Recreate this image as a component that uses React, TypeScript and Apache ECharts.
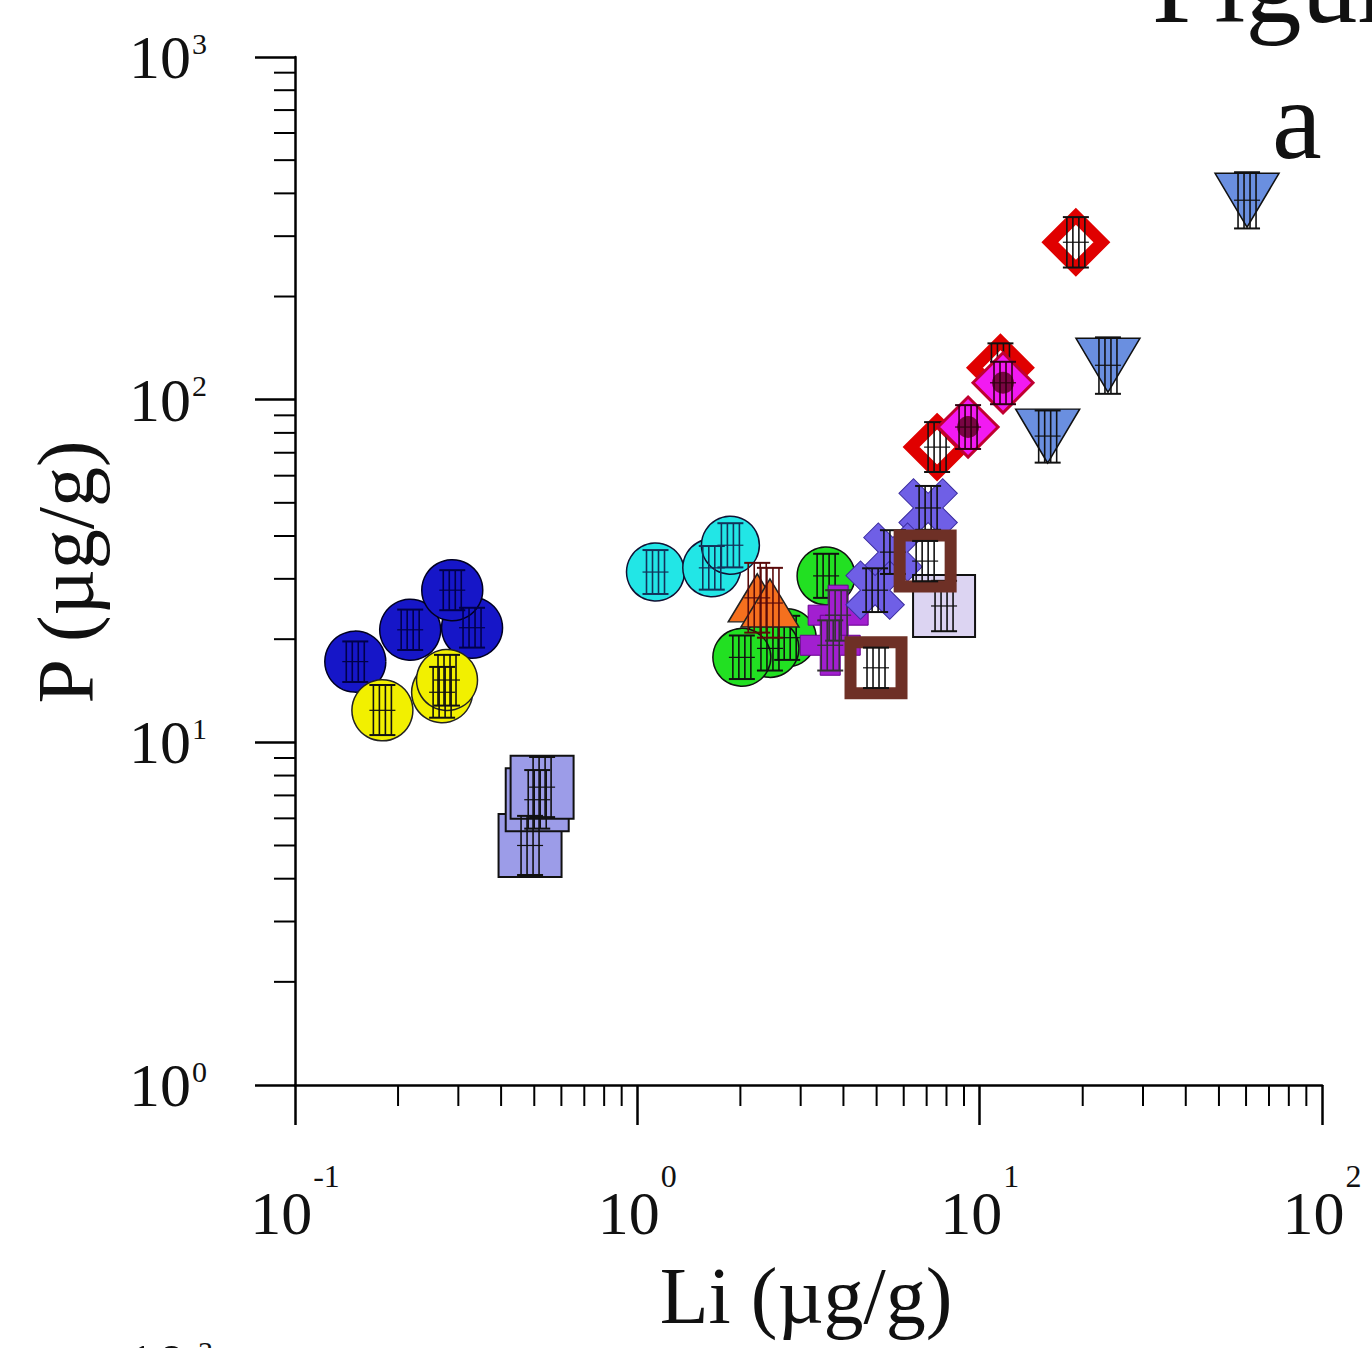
import React, { useEffect, useRef } from "react";
import * as echarts from "echarts";

// ---- axis limits & ticks ----
const X_MIN = 0.1;
const X_MAX = 100;
const Y_MIN = 1;
const Y_MAX = 1000;
const xMinorTicks = [0.2, 0.3, 0.4, 0.5, 0.6, 0.7, 0.8, 0.9, 2, 3, 4, 5, 6, 7, 8, 9, 20, 30, 40, 50, 60, 70, 80, 90];
const yMinorTicks = [2, 3, 4, 5, 6, 7, 8, 9, 20, 30, 40, 50, 60, 70, 80, 90, 200, 300, 400, 500, 600, 700, 800, 900];

// ---- data: [Li, P, P low, P high] ----
const darkBlueCircles = [
  [0.15, 17.2, 15.0, 19.7],
  [0.217, 21.3, 18.6, 24.4],
  [0.329, 21.6, 18.9, 24.7],
  [0.288, 27.8, 24.3, 31.8],
];
const yellowCircles = [
  [0.18, 12.4, 10.5, 14.7],
  [0.269, 14.0, 11.8, 16.6],
  [0.278, 15.2, 12.8, 18.0],
];
const periwinkleSquares = [
  [0.486, 5.0, 4.1, 6.1],
  [0.51, 6.8, 5.6, 8.3],
  [0.527, 7.4, 6.05, 9.06],
];
const cyanCircles = [
  [1.13, 31.4, 27.1, 36.4],
  [1.65, 32.3, 27.9, 37.4],
  [1.87, 37.6, 32.4, 43.6],
];
const orangeTriangles = [
  [2.24, 26.4, 20.9, 33.4],
  [2.44, 25.5, 20.2, 32.3],
];
const greenCircles = [
  [3.56, 30.6, 26.4, 35.5],
  [2.74, 20.2, 17.4, 23.4],
  [2.44, 18.8, 16.2, 21.8],
  [2.02, 17.7, 15.3, 20.5],
];
const purplePlus = [
  [3.86, 23.5, 19.8, 27.8],
  [3.66, 19.2, 16.2, 22.7],
];
const slateCrosses = [
  [7.07, 48.3, 41.7, 56.0],
  [5.58, 35.9, 31.0, 41.6],
  [4.95, 27.8, 24.0, 32.2],
];
const lavenderSquares = [[7.87, 25.0, 21.1, 29.6]];
const brownSquares = [
  [6.93, 33.8, 29.5, 38.7],
  [4.98, 16.5, 14.4, 18.9],
];
const redDiamonds = [
  [19.1, 288, 243, 341],
  [11.5, 124, 105, 146],
  [7.51, 72.7, 61.5, 86],
];
const magentaDiamonds = [
  [11.7, 112, 97, 129],
  [9.25, 83.2, 71.8, 96.4],
];
const blueInvTriangles = [
  [60.4, 382, 316, 461],
  [23.7, 126, 104, 152],
  [15.8, 78.3, 65.5, 93],
];

const SERIF = "Liberation Serif";
const PLUS_PATH = "path://M-1,-3H1V-1H3V1H1V3H-1V1H-3V-1H-1Z";

const groups = [
  { name: "darkBlue", data: darkBlueCircles, symbol: "circle", size: 61, color: "#1616c8", border: "#000020", bw: 1.5, bar: "#00004a" },
  { name: "yellow", data: yellowCircles, symbol: "circle", size: 61, color: "#f2f000", border: "#222", bw: 1.5, bar: "#111" },
  { name: "periwinkle", data: periwinkleSquares, symbol: "rect", size: 63, color: "#9c9ce8", border: "#111", bw: 2, bar: "#111" },
  { name: "cyan", data: cyanCircles, symbol: "circle", size: 58, color: "#22e6e6", border: "#113", bw: 1.5, bar: "#12335a" },
  { name: "green", data: greenCircles, symbol: "circle", size: 58, color: "#22e022", border: "#111", bw: 1.5, bar: "#111" },
  { name: "orange", data: orangeTriangles, symbol: "triangle", size: [58, 48], color: "#f5701e", border: "#222", bw: 1.5, bar: "#5a0a0a" },
  { name: "purple", data: purplePlus, symbol: PLUS_PATH, size: 60, color: "#a21fd0", border: "#6a0090", bw: 1, bar: "#333" },
  { name: "slate", data: slateCrosses, symbol: PLUS_PATH, size: 62, rotate: 45, color: "#6f5fe6", border: "#3a2ca0", bw: 1, bar: "#111" },
  { name: "lavender", data: lavenderSquares, symbol: "rect", size: 62, color: "#dcd4f2", border: "#111", bw: 2, bar: "#111" },
  { name: "brown", data: brownSquares, symbol: "rect", size: 51, color: "rgba(0,0,0,0)", border: "#6e3026", bw: 12, bar: "#111" },
  { name: "red", data: redDiamonds, symbol: "diamond", size: 52, color: "#ffffff", border: "#e00000", bw: 12, bar: "#111" },
  { name: "magenta", data: magentaDiamonds, symbol: "diamond", size: 60, color: "#f21af2", border: "#c00030", bw: 3, bar: "#300010", core: "#5a0018" },
  { name: "blueInv", data: blueInvTriangles, symbol: "triangle", rotate: 180, size: [64, 54], color: "#6a8fe0", border: "#111", bw: 1.5, bar: "#111" },
];

function errorBarRenderer(color: string) {
  return (params: any, api: any) => {
    const x = api.value(0);
    const y = api.value(1);
    const lo = api.value(2);
    const hi = api.value(3);
    const c = api.coord([x, y]);
    const pl = api.coord([x, lo]);
    const ph = api.coord([x, hi]);
    const cap = 13;
    const children: any[] = [];
    [-9, -3, 3, 9].forEach((dx) => {
      children.push({
        type: "line",
        shape: { x1: c[0] + dx, y1: ph[1], x2: c[0] + dx, y2: pl[1] },
        style: { stroke: color, lineWidth: 1.6 },
      });
    });
    [ph[1], pl[1], c[1]].forEach((yy, i) => {
      children.push({
        type: "line",
        shape: { x1: c[0] - cap, y1: yy, x2: c[0] + cap, y2: yy },
        style: { stroke: color, lineWidth: i === 2 ? 1.2 : 2 },
      });
    });
    return { type: "group", children };
  };
}

function supLabel(v: number) {
  const e = Math.round(Math.log10(v));
  return `{b|10}{s|${e}}`;
}

export default function App() {
  const ref = useRef<HTMLDivElement>(null);
  useEffect(() => {
    if (!ref.current) return;
    const chart = echarts.init(ref.current, undefined, { renderer: "svg" });

    const series: any[] = [];
    // minor ticks (drawn through the axes' scales)
    series.push({
      type: "custom",
      silent: true,
      clip: false,
      z: 2,
      data: xMinorTicks.map((v) => [v, Y_MIN]),
      encode: { x: 0, y: 1 },
      renderItem: (params: any, api: any) => {
        const p = api.coord([api.value(0), api.value(1)]);
        return {
          type: "line",
          shape: { x1: p[0], y1: p[1], x2: p[0], y2: p[1] + 21 },
          style: { stroke: "#000", lineWidth: 2 },
        };
      },
    });
    series.push({
      type: "custom",
      silent: true,
      clip: false,
      z: 2,
      data: yMinorTicks.map((v) => [X_MIN, v]),
      encode: { x: 0, y: 1 },
      renderItem: (params: any, api: any) => {
        const p = api.coord([api.value(0), api.value(1)]);
        return {
          type: "line",
          shape: { x1: p[0] - 21, y1: p[1], x2: p[0], y2: p[1] },
          style: { stroke: "#000", lineWidth: 2 },
        };
      },
    });

    groups.forEach((g: any, i: number) => {
      const zBase = 10 + i * 3;
      series.push({
        type: "scatter",
        name: g.name,
        z: zBase,
        data: g.data.map((d: number[]) => [d[0], d[1]]),
        symbol: g.symbol,
        symbolSize: g.size,
        symbolRotate: g.rotate || 0,
        itemStyle: { color: g.color, borderColor: g.border, borderWidth: g.bw, opacity: 1 },
        emphasis: { disabled: true },
      });
      if (g.core) {
        series.push({
          type: "scatter",
          name: g.name + "-core",
          z: zBase + 1,
          data: g.data.map((d: number[]) => [d[0], d[1]]),
          symbol: "circle",
          symbolSize: 22,
          itemStyle: { color: g.core, borderWidth: 0 },
          emphasis: { disabled: true },
        });
      }
      series.push({
        type: "custom",
        name: g.name + "-err",
        z: zBase + 2,
        silent: true,
        clip: false,
        data: g.data,
        encode: { x: 0, y: 1 },
        renderItem: errorBarRenderer(g.bar),
      });
    });

    const xRich = {
      b: { fontSize: 62, fontFamily: SERIF, color: "#111", lineHeight: 62, verticalAlign: "bottom" },
      s: { fontSize: 32, fontFamily: SERIF, color: "#111", lineHeight: 30, verticalAlign: "bottom", padding: [0, 0, 52, 1] },
    };
    const yRich = {
      b: { fontSize: 62, fontFamily: SERIF, color: "#111", lineHeight: 62 },
      s: { fontSize: 30, fontFamily: SERIF, color: "#111", lineHeight: 30, verticalAlign: "bottom", padding: [0, 0, 30, 1] },
    };

    chart.setOption({
      animation: false,
      backgroundColor: "#ffffff",
      grid: { left: 295, top: 57, width: 1027, height: 1028, containLabel: false },
      xAxis: {
        type: "log",
        logBase: 10,
        min: X_MIN,
        max: X_MAX,
        axisLine: { show: true, lineStyle: { color: "#000", width: 2.5 } },
        axisTick: { show: true, inside: false, length: 40, lineStyle: { color: "#000", width: 2.5 } },
        minorTick: { show: false },
        splitLine: { show: false },
        axisLabel: {
          margin: 97,
          formatter: supLabel,
          rich: xRich,
        },
      },
      yAxis: {
        type: "log",
        logBase: 10,
        min: Y_MIN,
        max: Y_MAX,
        axisLine: { show: true, lineStyle: { color: "#000", width: 2.5 } },
        axisTick: { show: true, inside: false, length: 40, lineStyle: { color: "#000", width: 2.5 } },
        minorTick: { show: false },
        splitLine: { show: false },
        axisLabel: {
          margin: 88,
          formatter: supLabel,
          rich: yRich,
        },
      },
      graphic: [
        {
          type: "text",
          x: 806,
          y: 1296,
          style: { text: "Li (µg/g)", fontSize: 80, fontFamily: SERIF, fill: "#111", align: "center", verticalAlign: "middle" },
        },
        {
          type: "text",
          x: 66,
          y: 572,
          rotation: Math.PI / 2,
          style: { text: "P (µg/g)", fontSize: 80, fontFamily: SERIF, fill: "#111", align: "center", verticalAlign: "middle" },
        },
        {
          type: "text",
          x: 1152,
          y: -16,
          style: { text: "Figure 3", fontSize: 112, fontFamily: SERIF, fill: "#111", align: "left", verticalAlign: "middle" },
        },
        {
          type: "text",
          x: 1272,
          y: 120,
          style: { text: "a", fontSize: 112, fontFamily: SERIF, fill: "#111", align: "left", verticalAlign: "middle" },
        },
        {
          type: "text",
          x: 125,
          y: 1334,
          style: {
            text: "{b|10}{s|-3}",
            fill: "#111",
            align: "left",
            verticalAlign: "top",
            rich: yRich,
          },
        },
      ],
      series,
    });
    return () => chart.dispose();
  }, []);

  return (
    <div
      ref={ref}
      style={{ position: "fixed", left: 0, top: 0, width: 1372, height: 1348, background: "#fff" }}
    />
  );
}
